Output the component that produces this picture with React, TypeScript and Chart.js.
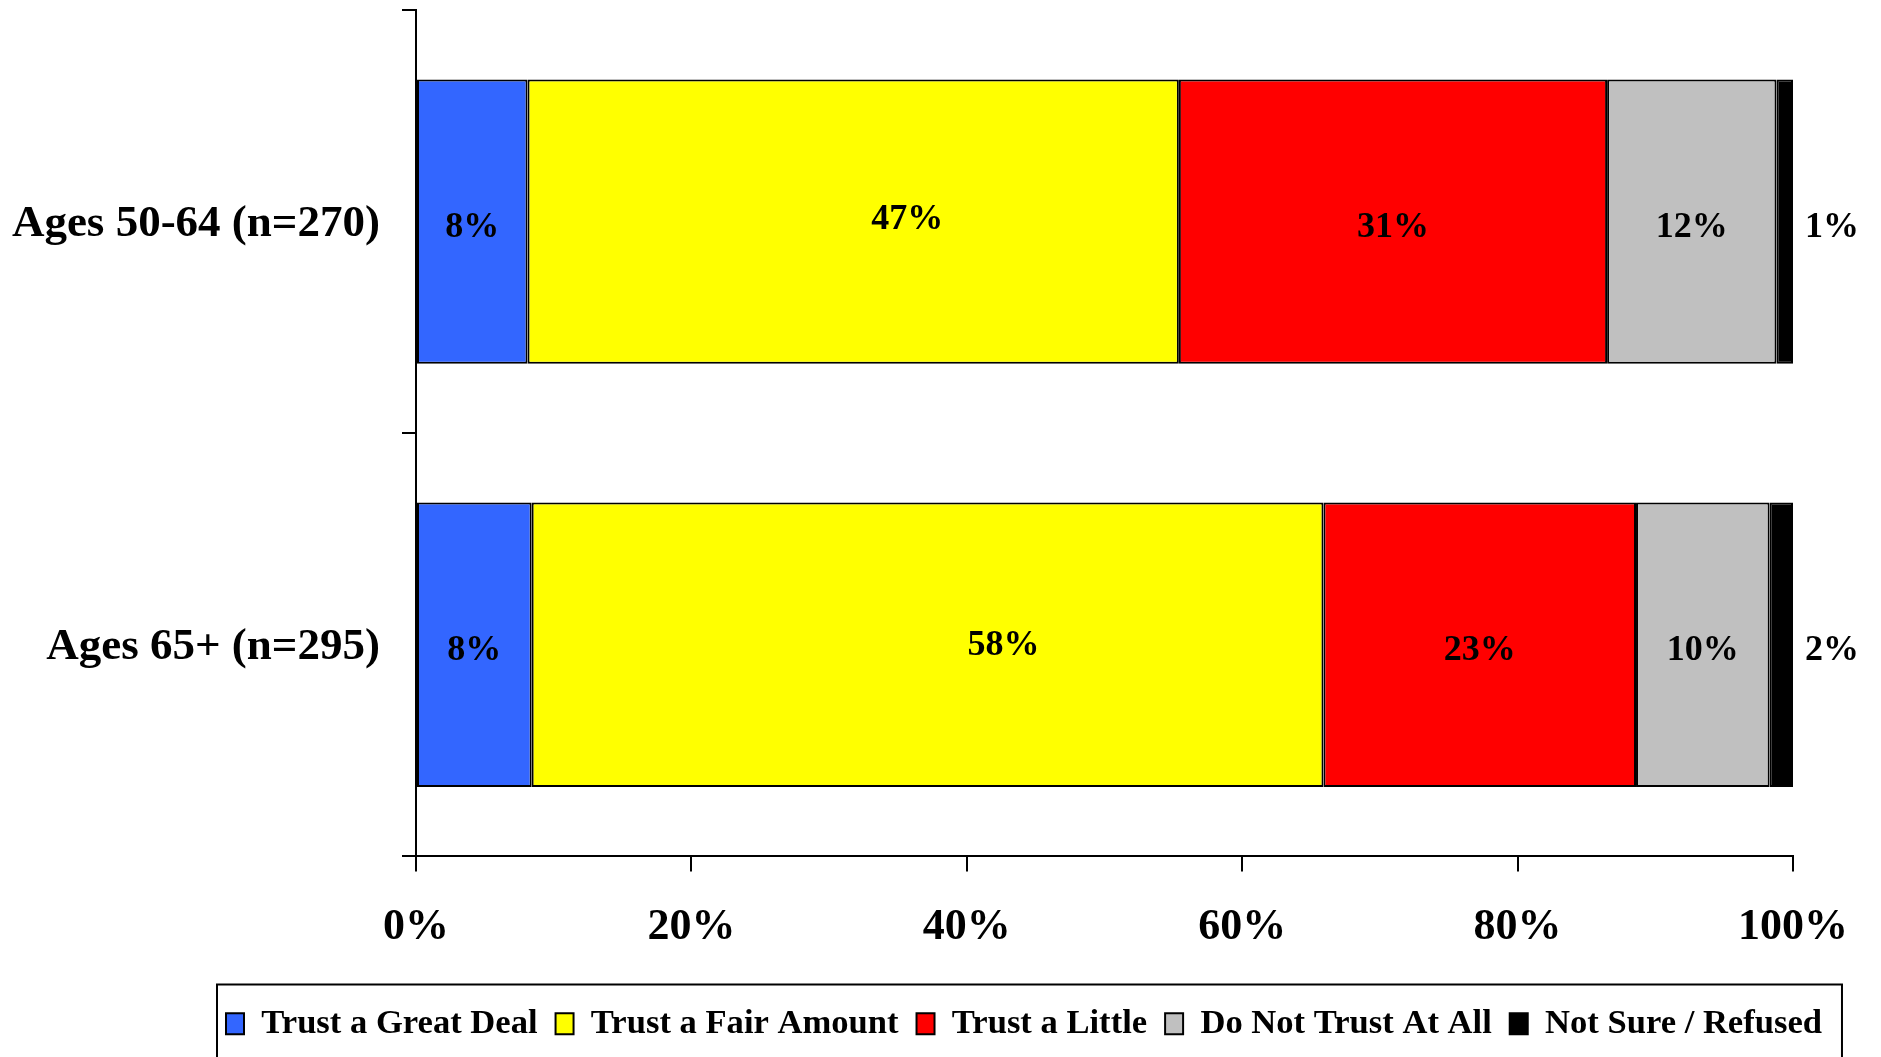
import React, { useEffect, useRef } from "react";
import { Chart, registerables } from "chart.js";

Chart.register(...registerables);

// ---- data ----
const CATEGORIES = ["Ages 50-64 (n=270)", "Ages 65+ (n=295)"];
const SERIES_NAMES = [
  "Trust a Great Deal",
  "Trust a Fair Amount",
  "Trust a Little",
  "Do Not Trust At All",
  "Not Sure / Refused",
];
const GREAT_DEAL = [8.1, 8.4];
const FAIR_AMOUNT = [47.3, 57.5];
const A_LITTLE = [31.1, 22.7];
const NOT_AT_ALL = [12.3, 9.7];
const NOT_SURE = [1.2, 1.7];
const X_TICKS = [0, 20, 40, 60, 80, 100];

// ---- styles ----
const COLORS = ["#3366FF", "#FFFF00", "#FF0000", "#C0C0C0", "#000000"];
const FONT = '"Liberation Serif", "Times New Roman", Times, serif';
// hand-placed label nudges (px) per dataset index, per category
const LABEL_NUDGE: Record<number, number[][]> = { 1: [[54, -8], [76, -5]] };
const LEGEND_START_X = 226;

const valueLabels = {
  id: "valueLabels",
  afterDatasetsDraw(chart: any) {
    const ctx = chart.ctx;
    ctx.save();
    ctx.font = `bold 36px ${FONT}`;
    ctx.fillStyle = "#000";
    ctx.textBaseline = "middle";
    chart.data.datasets.forEach((ds: any, di: number) => {
      const meta = chart.getDatasetMeta(di);
      meta.data.forEach((bar: any, i: number) => {
        const v = ds.data[i];
        const text = Math.round(v) + "%";
        const { x, y, base } = bar.getProps(["x", "y", "base"], true);
        const w = Math.abs(x - base);
        const tw = ctx.measureText(text).width;
        const nudge = (LABEL_NUDGE[di] && LABEL_NUDGE[di][i]) || [0, 0];
        if (tw + 10 > w) {
          ctx.textAlign = "left";
          ctx.fillText(text, Math.max(x, base) + 12, y + 6);
        } else {
          ctx.textAlign = "center";
          ctx.fillText(text, (x + base) / 2 + nudge[0], y + 6 + nudge[1]);
        }
      });
    });
    ctx.restore();
  },
};

const legendFrame = {
  id: "legendFrame",
  afterLayout(chart: any) {
    const lg = chart.legend;
    if (!lg) return;
    const pad = lg.options.labels.padding;
    lg.left = LEGEND_START_X - pad;
    lg.right = chart.width;
  },
  afterDraw(chart: any) {
    const lg = chart.legend;
    if (!lg || !lg.lineWidths) return;
    const ctx = chart.ctx;
    const pad = lg.options.labels.padding;
    const left = lg.left + pad - 9;
    const right = lg.left + lg.lineWidths[0] + 20;
    const top = lg.top - 4;
    ctx.save();
    ctx.strokeStyle = "#000";
    ctx.lineWidth = 2;
    ctx.beginPath();
    ctx.moveTo(left, chart.height + 5);
    ctx.lineTo(left, top);
    ctx.lineTo(right, top);
    ctx.lineTo(right, chart.height + 5);
    ctx.stroke();
    ctx.restore();
  },
};

export default function App() {
  const ref = useRef<HTMLCanvasElement | null>(null);

  useEffect(() => {
    if (!ref.current) return;
    const seriesValues = [GREAT_DEAL, FAIR_AMOUNT, A_LITTLE, NOT_AT_ALL, NOT_SURE];
    const chart = new Chart(ref.current, {
      type: "bar",
      data: {
        labels: CATEGORIES,
        datasets: SERIES_NAMES.map((name, k) => ({
          label: name,
          data: seriesValues[k],
          backgroundColor: COLORS[k],
          borderColor: "#000",
          borderWidth: 2,
          borderSkipped: false,
          barPercentage: 0.672,
          categoryPercentage: 1,
        })),
      },
      options: {
        indexAxis: "y",
        responsive: true,
        maintainAspectRatio: false,
        animation: false,
        events: [],
        layout: { padding: { left: 0, right: 88, top: 10, bottom: 6 } },
        plugins: {
          tooltip: { enabled: false },
          legend: {
            position: "bottom",
            align: "start",
            labels: {
              color: "#000",
              font: { family: FONT, size: 34.6, weight: "bold" },
              boxWidth: 18,
              boxHeight: 21,
              padding: 18,
            },
          },
        },
        scales: {
          x: {
            type: "linear",
            stacked: true,
            min: 0,
            max: 100,
            afterBuildTicks: (s: any) => {
              s.ticks = X_TICKS.map((v) => ({ value: v }));
            },
            ticks: {
              callback: (v: any) => v + "%",
              color: "#000",
              font: { family: FONT, size: 44, weight: "bold" },
              padding: 30,
              maxRotation: 0,
            },
            grid: { drawOnChartArea: false, tickLength: 15, color: "#000", lineWidth: 2 },
            border: { color: "#000", width: 2 },
            afterFit: (s: any) => {
              s.height = 132;
            },
          },
          y: {
            type: "category",
            stacked: true,
            ticks: {
              color: "#000",
              font: { family: FONT, size: 45, weight: "bold" },
              padding: 22,
              labelOffset: 3,
            },
            grid: { offset: true, drawOnChartArea: false, tickLength: 14, color: "#000", lineWidth: 2 },
            border: { color: "#000", width: 2 },
            afterFit: (s: any) => {
              s.width = 416;
              s.paddingTop = 0;
              s.paddingBottom = 0;
            },
          },
        },
      } as any,
      plugins: [valueLabels, legendFrame],
    });
    return () => chart.destroy();
  }, []);

  return (
    <div style={{ position: "absolute", left: 0, top: 0, width: 1881, height: 1057, background: "#fff" }}>
      <canvas ref={ref} />
    </div>
  );
}
